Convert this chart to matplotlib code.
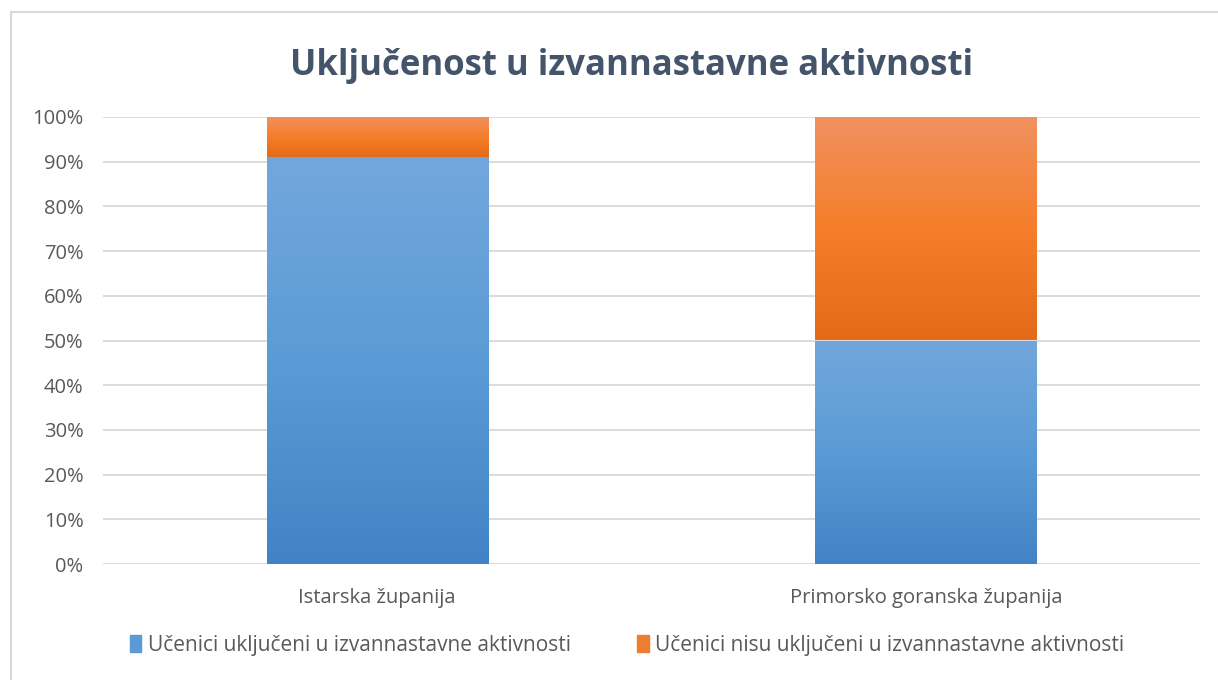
import matplotlib
matplotlib.use("Agg")
import matplotlib.pyplot as plt
import numpy as np
from matplotlib.colors import LinearSegmentedColormap
from matplotlib.patches import Rectangle

categories = ["Istarska županija", "Primorsko goranska županija"]
included = [91, 50]
not_included = [9, 50]
series_names = ["Učenici uključeni u izvannastavne aktivnosti",
                "Učenici nisu uključeni u izvannastavne aktivnosti"]
yticks = [0, 10, 20, 30, 40, 50, 60, 70, 80, 90, 100]
ytick_labels = [f"{v}%" for v in yticks]

W, H = 1218, 680
fig = plt.figure(figsize=(W / 100, H / 100), dpi=100)
plt.rcParams['font.family'] = ['Open Sans', 'DejaVu Sans']

# chart border
fig.patches.append(Rectangle((11 / W, -0.1), 1.2, (H - 12) / H + 0.1, transform=fig.transFigure,
                             fill=False, edgecolor="#D9D9D9", linewidth=1.5))

ax = fig.add_axes([103 / W, (H - 564) / H, (1200 - 103) / W, (564 - 117) / H])

blue_cmap = LinearSegmentedColormap.from_list("b", ["#4183C6", "#5B9BD5", "#72A7DC"])
orange_cmap = LinearSegmentedColormap.from_list("o", ["#E46A18", "#F57E2A", "#F19160"])

x = np.arange(len(categories))
width = 0.403
grad = np.linspace(0, 1, 256).reshape(-1, 1)

bars1 = ax.bar(x, included, width, color="none", edgecolor="none", zorder=2)
bars2 = ax.bar(x, not_included, width, bottom=included, color="none", edgecolor="none", zorder=2)

for bars, cmap in ((bars1, blue_cmap), (bars2, orange_cmap)):
    for b in bars:
        x0, y0 = b.get_x(), b.get_y()
        w, h = b.get_width(), b.get_height()
        im = ax.imshow(grad, cmap=cmap, origin="lower", aspect="auto",
                       extent=(x0, x0 + w, y0, y0 + h), zorder=2)
        im.set_clip_path(b)

ax.set_xlim(-0.5, len(categories) - 0.5)
ax.set_ylim(0, 100)
ax.set_yticks(yticks)
ax.set_yticklabels(ytick_labels)
ax.set_xticks(x)
ax.set_xticklabels(categories)
ax.yaxis.grid(True, color="#D9D9D9", linewidth=1.3, zorder=0)
ax.set_axisbelow(True)
for s in ax.spines.values():
    s.set_visible(False)
ax.tick_params(axis="both", length=0, colors="#595959", labelsize=14.5)
ax.tick_params(axis="y", pad=14)
ax.tick_params(axis="x", pad=17)

fig.text(632 / W, (H - 66) / H, "Uključenost u izvannastavne aktivnosti", ha="center", va="center",
         fontsize=25, fontweight="bold", color="#44546A")

handles = [Rectangle((0, 0), 1, 1, color="#5B9BD5"), Rectangle((0, 0), 1, 1, color="#ED7D31")]
fig.legend(handles, series_names, loc="center", bbox_to_anchor=(627 / W, (H - 645) / H),
           ncol=2, frameon=False, fontsize=15, labelcolor="#595959",
           handlelength=0.55, handleheight=0.85, handletextpad=0.3, columnspacing=3.2)

fig.savefig("out.png", dpi=100)
